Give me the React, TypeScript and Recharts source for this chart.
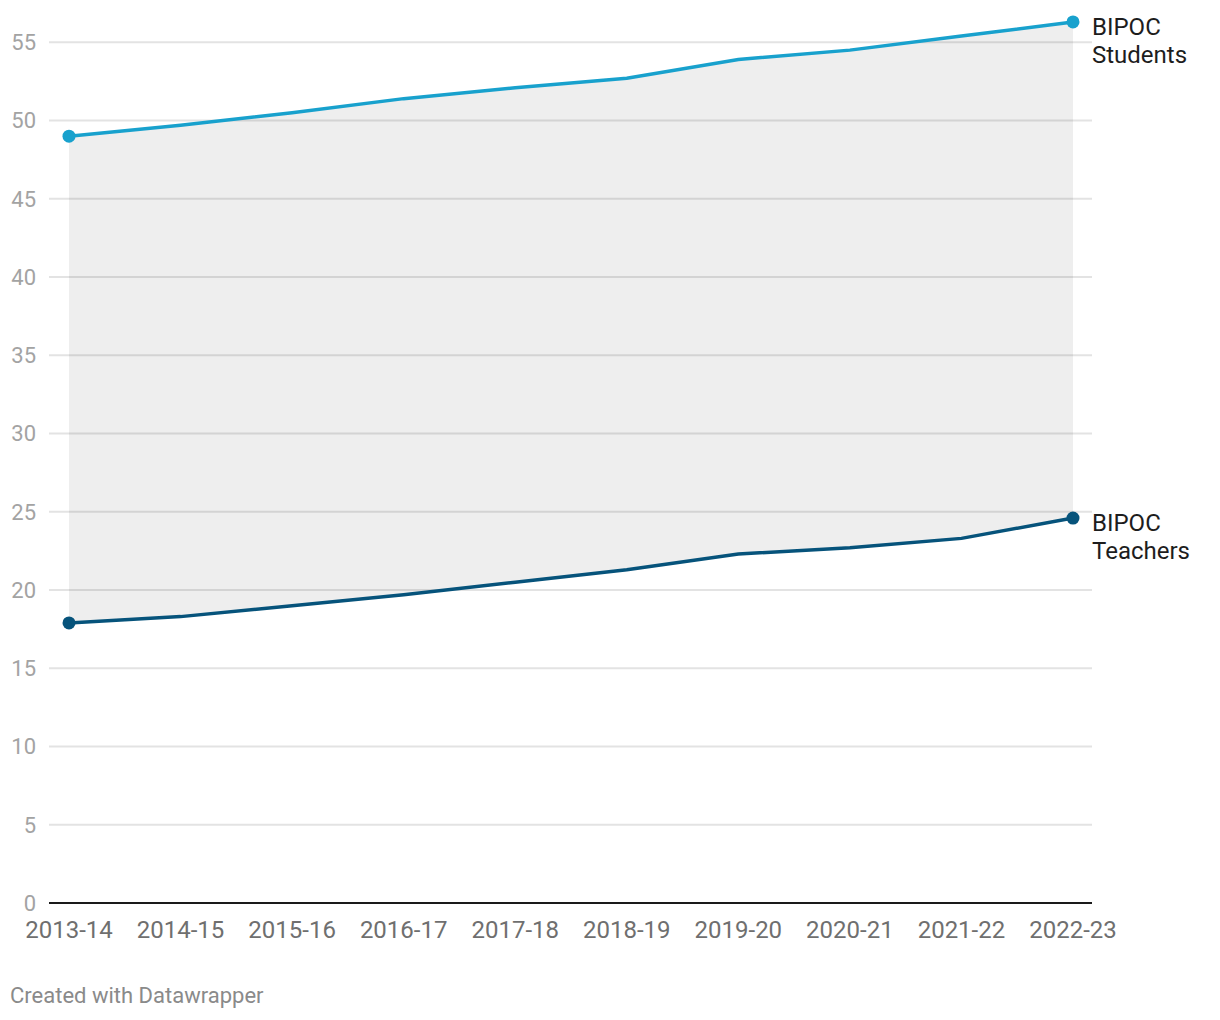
import React from "react";
import { ComposedChart, Area, Line, XAxis, YAxis, CartesianGrid } from "recharts";

const years = [
  "2013-14", "2014-15", "2015-16", "2016-17", "2017-18",
  "2018-19", "2019-20", "2020-21", "2021-22", "2022-23",
];
const students = [49.0, 49.7, 50.5, 51.4, 52.1, 52.7, 53.9, 54.5, 55.4, 56.3];
const teachers = [17.9, 18.3, 19.0, 19.7, 20.5, 21.3, 22.3, 22.7, 23.3, 24.6];
const yTicks = [0, 5, 10, 15, 20, 25, 30, 35, 40, 45, 50, 55];

const STUDENT_COLOR = "#18a1cd";
const TEACHER_COLOR = "#06537b";
const FONT = "Roboto, 'Noto Sans', sans-serif";

const data = years.map((year, i) => ({
  year,
  students: students[i],
  teachers: teachers[i],
  band: [teachers[i], students[i]],
}));

const lastIndex = years.length - 1;

const makeDot = (color: string, lines: string[]) => (props: any) => {
  const { cx, cy, index } = props;
  if (index !== 0 && index !== lastIndex) return <g key={`d-${index}`} />;
  return (
    <g key={`d-${index}`}>
      <circle cx={cx} cy={cy} r={6.5} fill={color} />
      {index === lastIndex && (
        <text x={cx + 19} y={cy + 13} fontSize={24} fill="#1d1d1d" fontFamily={FONT}>
          <tspan x={cx + 19}>{lines[0]}</tspan>
          <tspan x={cx + 19} dy={28}>{lines[1]}</tspan>
        </text>
      )}
    </g>
  );
};

export default function App() {
  return (
    <div style={{ position: "absolute", left: 0, top: 0, width: 1220, height: 1020, background: "#fff", fontFamily: FONT }}>
      <ComposedChart
        width={1220}
        height={1020}
        data={data}
        margin={{ top: 11, right: 128, bottom: 77, left: 0 }}
      >
        <CartesianGrid
          vertical={false}
          horizontalValues={yTicks}
          syncWithTicks={false}
          stroke="#e3e3e3"
          strokeWidth={2}
        />
        <XAxis
          dataKey="year"
          padding={{ left: 20, right: 19 }}
          axisLine={{ stroke: "#1a1a1a", strokeWidth: 2 }}
          tickLine={false}
          tickSize={0}
          tickMargin={18}
          height={40}
          interval={0}
          tick={{ fontSize: 24, fill: "#6f6f6f", fontFamily: FONT }}
        />
        <YAxis
          domain={[0, 57]}
          ticks={yTicks}
          width={49}
          axisLine={false}
          tickLine={false}
          tickSize={0}
          tickMargin={13}
          tick={{ fontSize: 22, fill: "#a3a3a3", fontFamily: FONT }}
        />
        <Area
          dataKey="band"
          stroke="none"
          fill="#000"
          fillOpacity={0.067}
          isAnimationActive={false}
        />
        <Line
          dataKey="students"
          stroke={STUDENT_COLOR}
          strokeWidth={3.5}
          dot={makeDot(STUDENT_COLOR, ["BIPOC", "Students"])}
          activeDot={false}
          isAnimationActive={false}
        />
        <Line
          dataKey="teachers"
          stroke={TEACHER_COLOR}
          strokeWidth={3.5}
          dot={makeDot(TEACHER_COLOR, ["BIPOC", "Teachers"])}
          activeDot={false}
          isAnimationActive={false}
        />
      </ComposedChart>
      <div style={{ position: "absolute", left: 10, top: 983, fontSize: 22, color: "#8a8a8a", fontFamily: FONT }}>
        Created with Datawrapper
      </div>
    </div>
  );
}
